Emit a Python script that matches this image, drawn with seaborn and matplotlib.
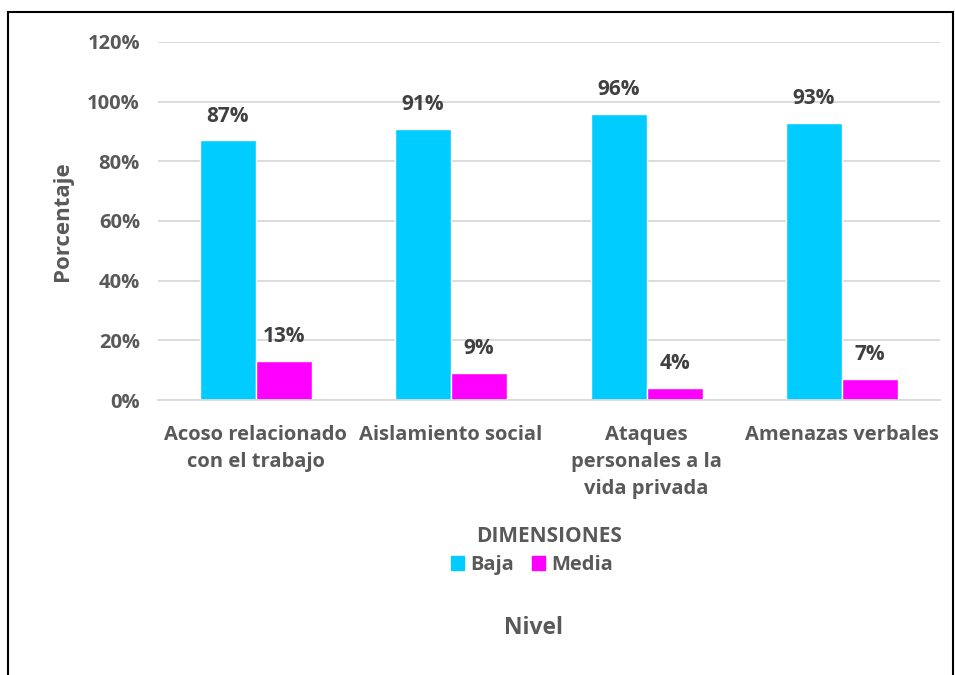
import pandas as pd
import seaborn as sns
import matplotlib.pyplot as plt
from matplotlib.patches import Rectangle
from matplotlib.ticker import PercentFormatter

categorias = ["Acoso relacionado\ncon el trabajo", "Aislamiento social",
              "Ataques\npersonales a la\nvida privada", "Amenazas verbales"]
baja = [87, 91, 96, 93]
media = [13, 9, 4, 7]
niveles = ["Baja", "Media"]
colores = {"Baja": "#00CCFF", "Media": "#FF00FF"}
GRIS = "#595959"

sns.set_theme(style="white")
plt.rcParams["font.family"] = ["Open Sans", "DejaVu Sans"]

df = pd.DataFrame({
    "categoria": categorias * 2,
    "nivel": ["Baja"] * len(categorias) + ["Media"] * len(categorias),
    "valor": baja + media,
})

fig = plt.figure(figsize=(9.55, 6.75), dpi=100)
ax = fig.add_axes([0.1654, 0.4074, 0.8186, 0.5304])

sns.barplot(data=df, x="categoria", y="valor", hue="nivel", palette=colores,
            width=0.573, gap=0, saturation=1, ax=ax, legend=False, errorbar=None)

ax.set_ylim(0, 120)
ax.set_xlim(-0.5, len(categorias) - 0.5)
ax.set_yticks(range(0, 121, 20))
ax.yaxis.set_major_formatter(PercentFormatter(decimals=0))
ax.grid(axis="y", color="#D9D9D9", linewidth=1.3)
ax.set_axisbelow(True)
for s in ["left", "right", "top"]:
    ax.spines[s].set_visible(False)
ax.spines["bottom"].set_color("#D9D9D9")
ax.spines["bottom"].set_linewidth(1.3)
ax.tick_params(axis="both", length=0, labelsize=14.5, colors=GRIS)
for t in ax.get_xticklabels() + ax.get_yticklabels():
    t.set_fontweight("bold")
for t in ax.get_xticklabels():
    t.set_linespacing(1.47)
ax.tick_params(axis="x", pad=18)
ax.tick_params(axis="y", pad=13)
ax.set_xlabel("")
ax.set_ylabel("Porcentaje", fontsize=16, fontweight="bold", color=GRIS, labelpad=10)

for cont in ax.containers:
    ax.bar_label(cont, labels=[f"{v:.0f}%" for v in cont.datavalues],
                 padding=10, fontsize=15, fontweight="bold", color="#404040")

# leyenda y titulo de eje como en Excel
fig.text(549 / 955, 1 - 537 / 675, "DIMENSIONES", ha="center", va="center",
         fontsize=15, fontweight="bold", color=GRIS)
handles = [Rectangle((0, 0), 1, 1, color=colores[n]) for n in niveles]
fig.legend(handles, niveles, loc="center", bbox_to_anchor=(532 / 955, 1 - 565 / 675),
           ncol=2, frameon=False, handlelength=0.65, handleheight=0.65,
           handletextpad=0.3, columnspacing=0.9,
           prop={"weight": "bold", "size": 14.5}, labelcolor=GRIS)
fig.text(533 / 955, 1 - 628 / 675, "Nivel", ha="center", va="center",
         fontsize=16.5, fontweight="bold", color=GRIS)

fig.patches.append(Rectangle((8 / 955, -0.02), 945 / 955, 1 - 12 / 675 + 0.02,
                             transform=fig.transFigure, fill=False,
                             edgecolor="black", linewidth=1.5))

fig.savefig("out.png", dpi=100)
